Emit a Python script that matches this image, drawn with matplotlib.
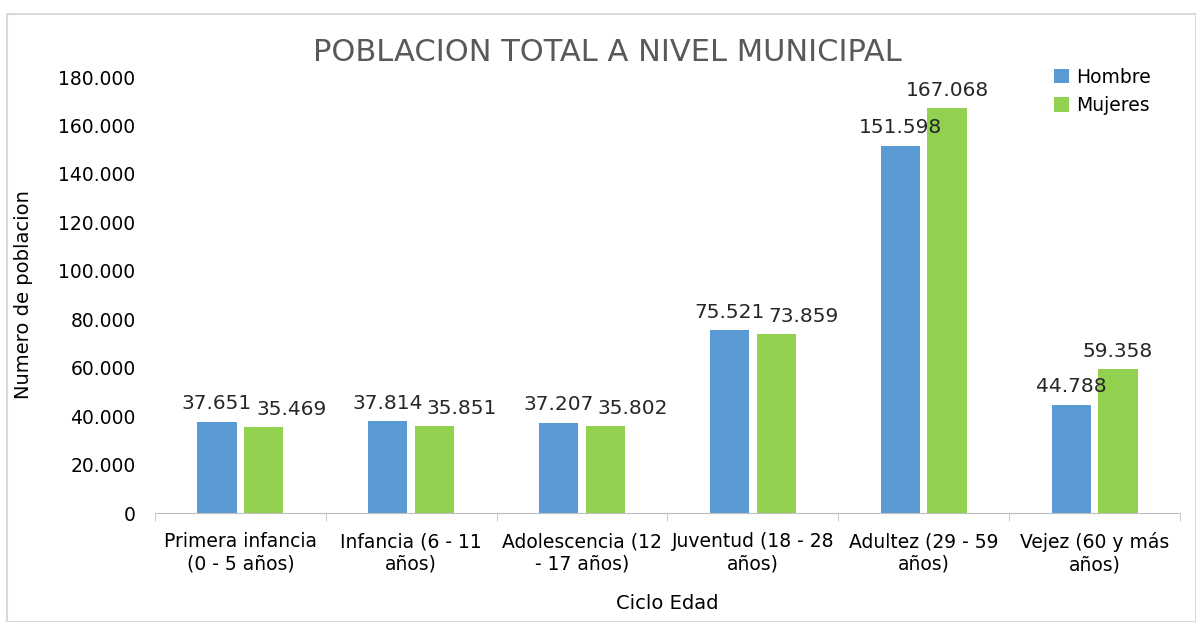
import matplotlib.pyplot as plt
import numpy as np
from matplotlib.patches import Rectangle

categorias = [
    "Primera infancia\n(0 - 5 años)",
    "Infancia (6 - 11\naños)",
    "Adolescencia (12\n- 17 años)",
    "Juventud (18 - 28\naños)",
    "Adultez (29 - 59\naños)",
    "Vejez (60 y más\naños)",
]
hombres = [37651, 37814, 37207, 75521, 151598, 44788]
mujeres = [35469, 35851, 35802, 73859, 167068, 59358]
y_ticks = list(range(0, 180001, 20000))


def _fmt(v):
    # separador de miles con punto
    return f"{v:,}".replace(",", ".")


fig = plt.figure(figsize=(11.96, 6.22), dpi=100)
fig.patches.append(Rectangle((0.006, 0.0), 0.994, 0.977, transform=fig.transFigure,
                             fill=False, edgecolor="#d9d9d9", linewidth=1.5))
ax = fig.add_axes([0.1296, 0.1752, 0.857, 0.701])

x = np.arange(len(categorias))
ancho = 0.23
ax.bar(x - 0.137, hombres, ancho, color="#5B9BD5", label="Hombre")
ax.bar(x + 0.137, mujeres, ancho, color="#92D050", label="Mujeres")

for xi, h, m in zip(x, hombres, mujeres):
    ax.text(xi - 0.137, h + 3500, _fmt(h), ha="center", va="bottom",
            fontsize=14.5, family="DejaVu Sans", color="#262626")
    # como en Excel: la etiqueta de mujeres se desplaza si choca con la de hombres
    desplaz = 0.16 if abs(h - m) < 10000 else 0.0
    ax.text(xi + 0.137 + desplaz, m + 3500, _fmt(m), ha="center", va="bottom",
            fontsize=14.5, family="DejaVu Sans", color="#262626")

ax.set_xlim(-0.5, len(categorias) - 0.5)
ax.set_ylim(0, 180000)
ax.set_yticks(y_ticks)
ax.set_yticklabels([_fmt(t) for t in y_ticks], fontsize=13.5)
ax.set_xticks(x)
ax.set_xticklabels(categorias, fontsize=13.5)
ax.set_xticks(np.arange(-0.5, len(categorias)), minor=True)
ax.tick_params(axis="x", which="major", length=0, pad=14)
ax.tick_params(axis="x", which="minor", length=6, color="#bfbfbf")
ax.tick_params(axis="y", length=0, pad=14)

for s in ["top", "right", "left"]:
    ax.spines[s].set_visible(False)
ax.spines["bottom"].set_color("#bfbfbf")

ax.set_ylabel("Numero de poblacion", fontsize=14)
ax.yaxis.set_label_coords(-0.119, 0.5)
ax.set_xlabel("Ciclo Edad", fontsize=14, labelpad=14)
fig.text(0.508, 0.915, "POBLACION TOTAL A NIVEL MUNICIPAL", ha="center", va="center",
         fontsize=22, color="#595959")

ax.legend(loc="upper right", bbox_to_anchor=(0.988, 1.06), frameon=False,
          fontsize=13.5, handlelength=0.8, handleheight=0.8, handletextpad=0.4,
          labelspacing=0.5)

plt.savefig("out.png", dpi=100, facecolor="white")
plt.close()
